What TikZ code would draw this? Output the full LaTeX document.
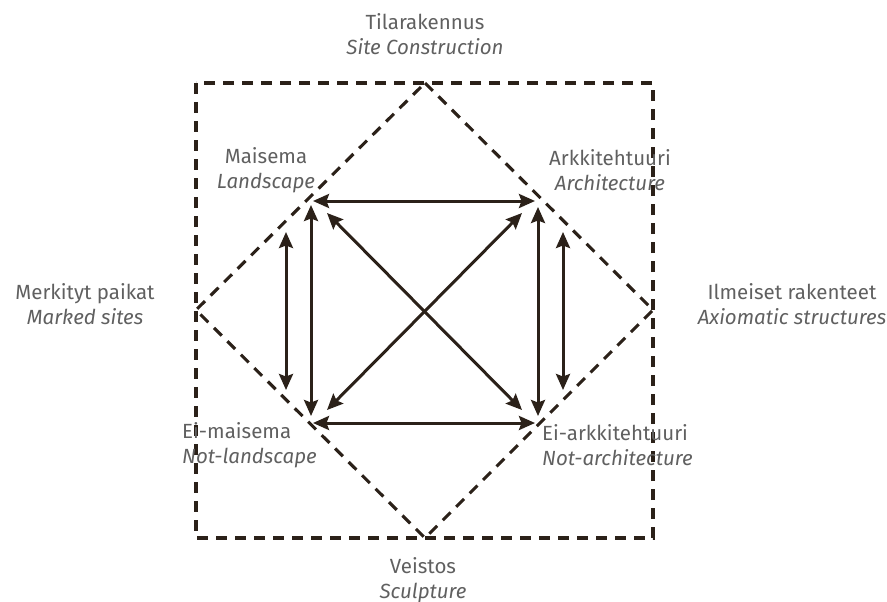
\documentclass[tikz,border=0pt]{standalone}
\usepackage{fontspec}
\setmainfont{Fira Sans}
\usetikzlibrary{arrows.meta}
\definecolor{ink}{HTML}{2B2119}
\definecolor{txt}{HTML}{606060}
\tikzset{
  dash line/.style={draw=ink, line width=3.1pt, dash pattern=on 11pt off 8pt},
  both arrow/.style={draw=ink, line width=3pt, {Stealth[length=16pt,width=14pt,inset=2.5pt]}-{Stealth[length=16pt,width=14pt,inset=2.5pt]}},
  label text/.style={text=txt, inner sep=0pt, font=\fontsize{20.5}{24.5}\selectfont}
}
\begin{document}
\begin{tikzpicture}[x=1pt,y=-1pt]
\useasboundingbox (0,0) rectangle (887,602);
% frame and diamond
\coordinate (r1) at (196,83);
\coordinate (r2) at (653,538);
\coordinate (dt) at (425,83);
\coordinate (dr) at (653,310);
\coordinate (db) at (425,538);
\coordinate (dl) at (196,310);
\draw[dash line] (r1) rectangle (r2);
\draw[dash line] (dt) -- (dr) -- (db) -- (dl) -- cycle;
% arrow ends
\coordinate (hTL) at (313,201);
\coordinate (hTR) at (535,201);
\coordinate (hBL) at (313,423);
\coordinate (hBR) at (535,423);
\coordinate (vLT) at (311,205);
\coordinate (vLB) at (311,416);
\coordinate (vRT) at (538,207);
\coordinate (vRB) at (538,416);
\coordinate (oLT) at (286,232);
\coordinate (oLB) at (286,390);
\coordinate (oRT) at (563,232);
\coordinate (oRB) at (563,390);
\coordinate (dTL) at (327,213);
\coordinate (dBR) at (522,410);
\coordinate (dTR) at (522,213);
\coordinate (dBL) at (327,410);
\draw[both arrow] (hTL) -- (hTR);
\draw[both arrow] (hBL) -- (hBR);
\draw[both arrow] (vLT) -- (vLB);
\draw[both arrow] (vRT) -- (vRB);
\draw[both arrow] (oLT) -- (oLB);
\draw[both arrow] (oRT) -- (oRB);
\draw[both arrow] (dTL) -- (dBR);
\draw[both arrow] (dTR) -- (dBL);
% labels
\node[label text, align=center] (top) at (425,34) {Tilarakennus\\\itshape Site Construction};
\node[label text, align=center] (bot) at (423,580) {Veistos\\\itshape Sculpture};
\node[label text, align=center] (lft) at (85,304) {Merkityt paikat\\\itshape Marked sites};
\node[label text, align=center] (rgt) at (792,304) {Ilmeiset rakenteet\\\itshape Axiomatic structures};
\node[label text, align=center] (land) at (266,170) {Maisema\\\itshape Landscape};
\node[label text, align=center] (arch) at (610,170) {Arkkitehtuuri\\\itshape Architecture};
\node[label text, align=left, anchor=west] (nland) at (182,445) {Ei-maisema\\\itshape Not-landscape};
\node[label text, align=left, anchor=west] (narch) at (542,445) {Ei-arkkitehtuuri\\\itshape Not-architecture};
\end{tikzpicture}
\end{document}
